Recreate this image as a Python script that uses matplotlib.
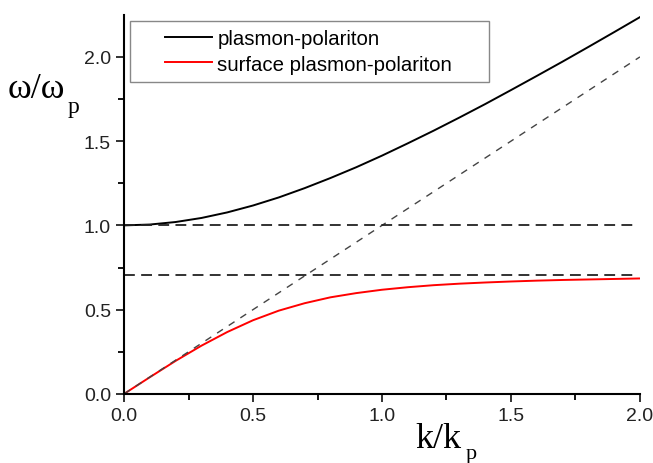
import numpy as np
import matplotlib.pyplot as plt
from matplotlib.lines import Line2D
from matplotlib.legend_handler import HandlerLine2D

plt.rcParams['font.family'] = ['Liberation Sans', 'DejaVu Sans']

# values (k in units of k_p, omega in units of omega_p)
k = [0.0, 0.1, 0.2, 0.3, 0.4, 0.5, 0.6, 0.7, 0.8, 0.9, 1.0,
     1.1, 1.2, 1.3, 1.4, 1.5, 1.6, 1.7, 1.8, 1.9, 2.0]
w_bulk = [1.000, 1.005, 1.020, 1.044, 1.077, 1.118, 1.166, 1.221, 1.281, 1.345, 1.414,
          1.487, 1.562, 1.640, 1.720, 1.803, 1.887, 1.972, 2.059, 2.147, 2.236]
w_surf = [0.000, 0.099, 0.196, 0.286, 0.367, 0.437, 0.494, 0.538, 0.573, 0.598, 0.618,
          0.633, 0.645, 0.654, 0.661, 0.667, 0.672, 0.676, 0.679, 0.682, 0.685]
light_k = [0.0, 2.0]
light_w = [0.0, 2.0]
w_asym = [1.0, 0.707]


class OffsetLine(HandlerLine2D):
    # legend line drawn only in the right part of the handle box
    def create_artists(self, legend, orig_handle, xdescent, ydescent,
                       width, height, fontsize, trans):
        arts = super().create_artists(legend, orig_handle, xdescent, ydescent,
                                      width, height, fontsize, trans)
        for a in arts:
            xd = np.asarray(a.get_xdata(), float)
            if len(xd) >= 2:
                x0, x1 = xd[0], xd[-1]
                a.set_xdata(np.linspace(x0 + 0.36 * (x1 - x0), x1, len(xd)))
        return arts


fig = plt.figure(figsize=(6.53, 4.64), dpi=100)
ax = fig.add_axes([0.19, 0.149, 0.79, 0.817])

ax.plot(k, w_bulk, color='black', lw=1.4, label='plasmon-polariton')
ax.plot(k, w_surf, color='red', lw=1.4, label='surface plasmon-polariton')
ax.plot(light_k, light_w, color='#444444', lw=1.0, dashes=(5, 5))
for w in w_asym:
    ax.plot([0, 1.985], [w, w], color='#222222', lw=1.3, dashes=(6, 3.5))

ax.set_xlim(0, 2.0)
ax.set_ylim(0, 2.25)
ax.set_xticks([0, 0.5, 1.0, 1.5, 2.0])
ax.set_yticks([0, 0.5, 1.0, 1.5, 2.0])
ax.set_xticks([0.25, 0.75, 1.25, 1.75], minor=True)
ax.set_yticks([0.25, 0.75, 1.25, 1.75], minor=True)
ax.xaxis.set_major_formatter(plt.FormatStrFormatter('%.1f'))
ax.yaxis.set_major_formatter(plt.FormatStrFormatter('%.1f'))

for s in ['top', 'right']:
    ax.spines[s].set_visible(False)
for s in ['left', 'bottom']:
    ax.spines[s].set_linewidth(1.5)
ax.tick_params(which='major', direction='out', length=6, width=1.3, labelsize=14,
               colors='#222222')
ax.tick_params(which='minor', direction='out', length=4, width=1.3)

# axis labels with a large, low subscript
serif = 'Liberation Serif'
fig.text(8 / 653, 1 - 98 / 464, 'ω/ω', fontsize=26, family=serif, va='baseline')
fig.text(68 / 653, 1 - 113 / 464, 'p', fontsize=17, family=serif, va='baseline')
fig.text(415 / 653, 1 - 448 / 464, 'k/k', fontsize=26, family=serif, va='baseline')
fig.text(466 / 653, 1 - 459 / 464, 'p', fontsize=16, family=serif, va='baseline')

leg = ax.legend(loc='upper left', bbox_to_anchor=(0.0116, 0.984, 0.696, 0),
                mode='expand', borderaxespad=0, fontsize=14.7, fancybox=False,
                framealpha=1, edgecolor='#888888', handlelength=3.6,
                handletextpad=0.25, borderpad=0.42, labelspacing=0.3,
                handler_map={Line2D: OffsetLine()})
leg.get_frame().set_linewidth(1.0)

fig.savefig('out.png', dpi=100)
